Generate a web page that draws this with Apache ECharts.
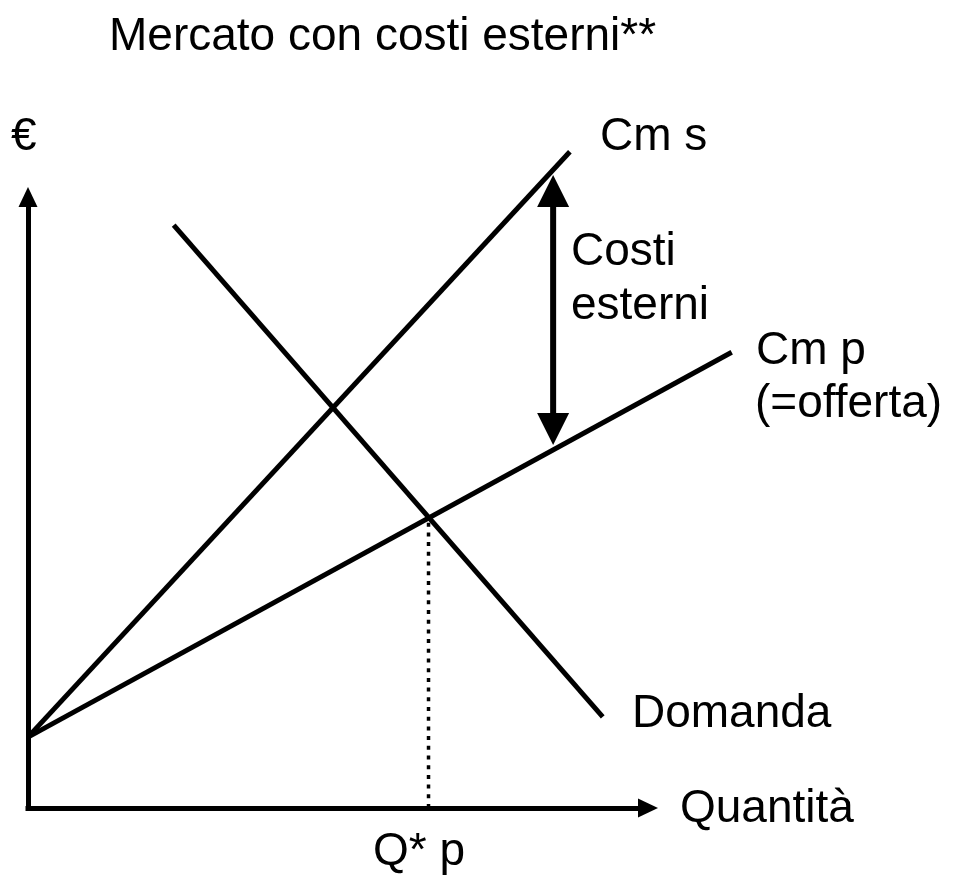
<!DOCTYPE html>
<html>
<head>
<meta charset="utf-8">
<script src="https://cdn.jsdelivr.net/npm/echarts@6/dist/echarts.min.js"></script>
<style>
  html, body { margin: 0; padding: 0; background: #fff; }
  #main { width: 958px; height: 876px; }
</style>
</head>
<body>
<div id="main"></div>
<script>
let chart = echarts.init(document.getElementById('main'));

// curves: [x start, y start, x end, y end] (quantity, euro)
let cmS = [0, 11.6, 87.4, 107.4];
let cmP = [0, 11.6, 113.5, 74.6];
let domanda = [23.5, 95.4, 92.7, 14.9];
let qStar = [64.6, 0, 64.6, 47.4];
// double arrow: x, low end, high end
let costiEsterni = [84.7, 59.4, 103.6];

const FONT = '46px "Liberation Sans", Arial, sans-serif';

function lab(text, x, baseline) {
    return {
        type: 'text',
        x: x,
        y: baseline - 16,
        style: { text: text, font: FONT, fill: '#000', verticalAlign: 'middle' }
    };
}

// straight segment between two data points, drawn through the axes
function segment(data, style) {
    return {
        type: 'custom',
        data: [data],
        silent: true,
        clip: false,
        renderItem: function (params, api) {
            let a = api.coord([api.value(0), api.value(1)]);
            let b = api.coord([api.value(2), api.value(3)]);
            return {
                type: 'line',
                shape: { x1: a[0], y1: a[1], x2: b[0], y2: b[1] },
                style: Object.assign({ stroke: '#000', lineWidth: 5 }, style || {})
            };
        }
    };
}

let axisCommon = {
    type: 'value', min: 0, max: 100,
    splitLine: { show: false }, axisTick: { show: false }, axisLabel: { show: false },
    axisLine: { symbol: ['none', 'triangle'], symbolSize: [19, 20], lineStyle: { color: '#000', width: 5, cap: 'square' } }
};

let option = {
    animation: false,
    grid: { left: 28, top: 197, right: 310, bottom: 68 },
    xAxis: axisCommon,
    yAxis: axisCommon,
    series: [
        segment(cmS),
        segment(cmP),
        segment(domanda),
        segment(qStar, { lineWidth: 3.5, lineDash: [4, 5.7] }),
        {
            type: 'custom',
            data: [costiEsterni],
            silent: true,
            clip: false,
            renderItem: function (params, api) {
                let top = api.coord([api.value(0), api.value(2)]);
                let bot = api.coord([api.value(0), api.value(1)]);
                let hw = 16, hh = 32;
                return {
                    type: 'group',
                    children: [
                        { type: 'line', shape: { x1: top[0], y1: top[1] + hh - 2, x2: bot[0], y2: bot[1] - hh + 2 },
                          style: { stroke: '#000', lineWidth: 6 } },
                        { type: 'polygon', shape: { points: [[top[0], top[1]], [top[0] - hw, top[1] + hh], [top[0] + hw, top[1] + hh]] },
                          style: { fill: '#000' } },
                        { type: 'polygon', shape: { points: [[bot[0], bot[1]], [bot[0] - hw, bot[1] - hh], [bot[0] + hw, bot[1] - hh]] },
                          style: { fill: '#000' } }
                    ]
                };
            }
        }
    ],
    graphic: [
        lab('Mercato con costi esterni**', 109, 53),
        lab('€', 11, 153),
        lab('Cm s', 600, 153),
        lab('Costi', 571, 268),
        lab('esterni', 571, 322),
        lab('Cm p', 756, 367),
        lab('(=offerta)', 755, 420),
        lab('Domanda', 632, 730),
        lab('Quantità', 680, 825),
        lab('Q* p', 373, 868)
    ]
};

chart.setOption(option);
</script>
</body>
</html>
